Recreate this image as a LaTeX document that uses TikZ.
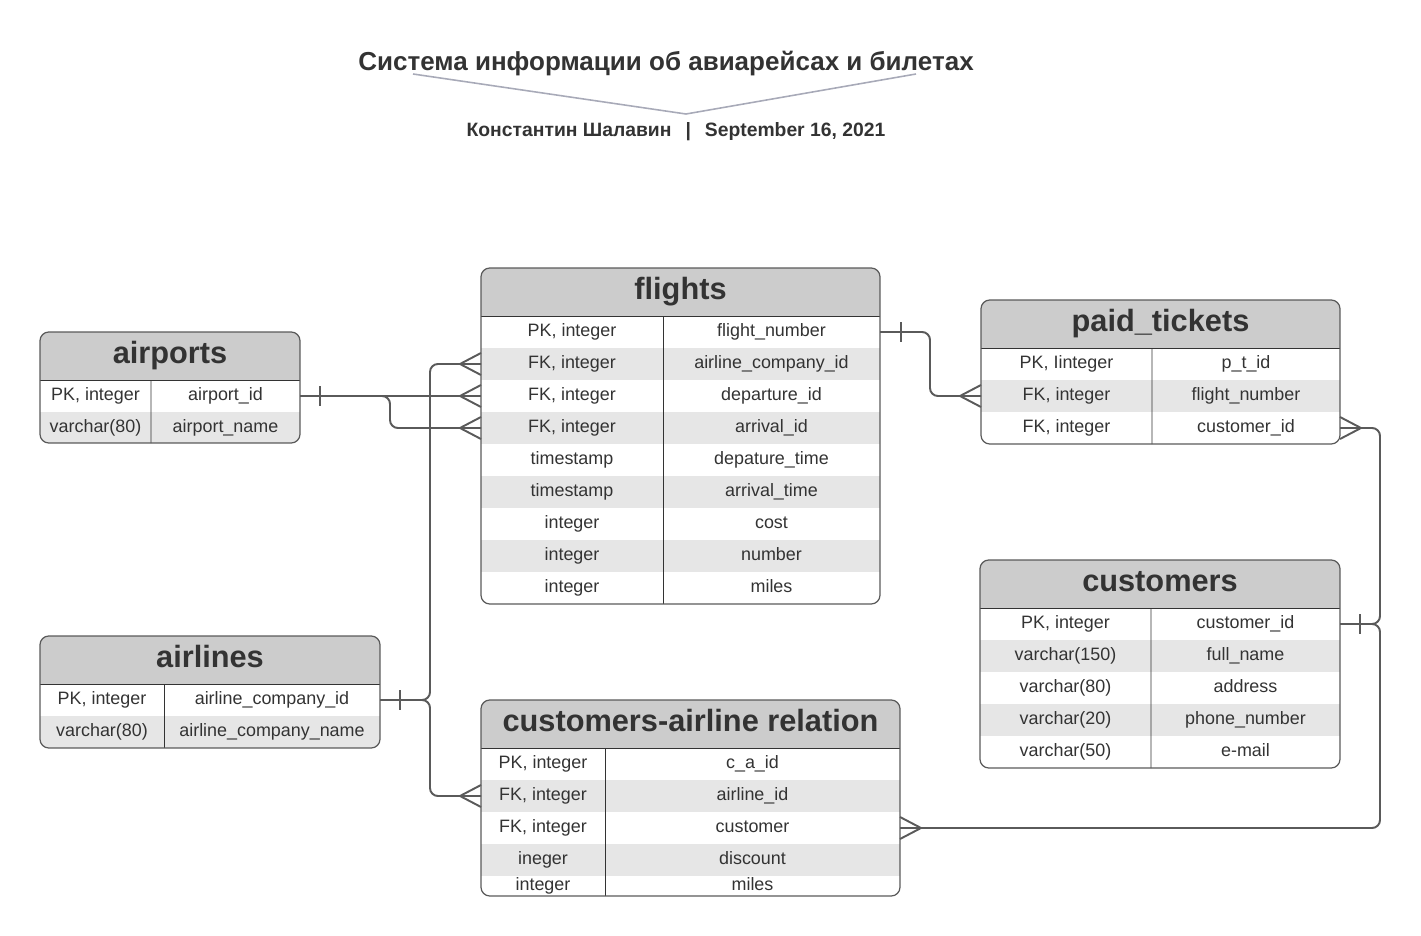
\documentclass[tikz,border=0pt]{standalone}
\usepackage{fontspec}
\setmainfont{Liberation Sans}
\usepackage{tikz}

\definecolor{headgray}{HTML}{CCCCCC}
\definecolor{rowgray}{HTML}{E6E6E6}
\definecolor{linegray}{HTML}{5A5A5A}
\definecolor{textgray}{HTML}{333333}
\definecolor{titleline}{HTML}{A8AAB8}

\newcommand{\erdtable}[8]{%
  \begin{scope}
    \clip[rounded corners=5pt] (#2,#3) rectangle ({#2+#4+#5},#7);
    \node[tblhead, minimum width={(#4+#5)*0.02cm}, anchor=north west] (#1) at (#2,#3) {#6};
    \foreach \typ/\fld [count=\i] in {#8} {
      \ifodd\i \def\rowfill{white}\else \def\rowfill{rowgray}\fi
      \pgfmathsetmacro\rowh{min(32,#7-(#3+48+(\i-1)*32))}
      \node[tblcell, fill=\rowfill, minimum height=\rowh*0.02cm, minimum width={#4*0.02cm}, anchor=north west]
        (#1-\i-l) at (#2,{#3+48+(\i-1)*32}) {\typ};
      \node[tblcell, fill=\rowfill, minimum height=\rowh*0.02cm, minimum width={#5*0.02cm}, anchor=north west]
        (#1-\i-r) at (#1-\i-l.north east) {\fld};
    }
    \draw[textgray] (#1.south west) -- (#1.south east);
    \draw[textgray] (#1-1-l.north east) -- ({#2+#4},#7);
  \end{scope}
  \draw[linegray, line width=0.7pt, rounded corners=5pt] (#2,#3) rectangle ({#2+#4+#5},#7);
}
\newcommand{\crowfoot}[2]{\draw[conn, shift={(#1)}] (#2,0) -- (0,-11) (#2,0) -- (0,11);}
\newcommand{\onebar}[2]{\draw[conn, shift={(#1)}] (#2,-10) -- (#2,10);}

\begin{document}
\begin{tikzpicture}[x=0.02cm, y=-0.02cm,
  tblhead/.style={fill=headgray, inner sep=0pt, outer sep=0pt, minimum height=48*0.02cm,
    text height=12.8pt, text depth=3.7pt, text=textgray, font=\fontsize{17.5}{20}\selectfont\bfseries},
  tblcell/.style={inner sep=0pt, outer sep=0pt, text height=7.4pt, text depth=2.2pt,
    text=textgray, font=\fontsize{10.2}{12}\selectfont},
  conn/.style={draw=linegray, line width=1.1pt, rounded corners=4.5pt}]
  \useasboundingbox (0,0) rectangle (1421,936);

  \node[text=textgray, font=\fontsize{14.8}{17}\selectfont\bfseries] (title) at (666,64)
    {Система информации об авиарейсах и билетах};
  \node[text=textgray, font=\fontsize{11}{13}\selectfont\bfseries] (subtitle) at (676,132)
    {Константин Шалавин \ \,|\, \ September 16, 2021};
  \draw[titleline, line width=0.9pt] (413,74) -- (686,114) -- (916,74);

  \erdtable{airports}{40}{332}{111}{149}{airports}{443}
    {{PK, integer}/airport\_id, varchar(80)/airport\_name}
  \erdtable{flights}{481}{268}{182}{217}{flights}{604}
    {{PK, integer}/flight\_number, {FK, integer}/airline\_company\_id, {FK, integer}/departure\_id,
     {FK, integer}/arrival\_id, timestamp/depature\_time, timestamp/arrival\_time,
     integer/cost, integer/number, integer/miles}
  \erdtable{paid}{981}{300}{171}{188}{paid\_tickets}{444}
    {{PK, Iinteger}/p\_t\_id, {FK, integer}/flight\_number, {FK, integer}/customer\_id}
  \erdtable{cust}{980}{560}{171}{189}{customers}{768}
    {{PK, integer}/customer\_id, varchar(150)/full\_name, varchar(80)/address,
     varchar(20)/phone\_number, varchar(50)/e-mail}
  \erdtable{airlines}{40}{636}{124}{216}{airlines}{748}
    {{PK, integer}/airline\_company\_id, varchar(80)/airline\_company\_name}
  \erdtable{rel}{481}{700}{124}{295}{customers-airline relation}{896}
    {{PK, integer}/c\_a\_id, {FK, integer}/airline\_id, {FK, integer}/customer,
     ineger/discount, integer/miles}

  \coordinate (apj) at (390,396);
  \coordinate (alj) at (430,700);
  \coordinate (fpj) at (930,332);
  \coordinate (cuj) at (1380,624);

  \draw[conn] (airports-1-r.east) -- (flights-3-l.west);
  \draw[conn] (airports-1-r.east) -- (apj) |- (flights-4-l.west);
  \draw[conn] (airlines-1-r.east) -- (alj) |- (flights-2-l.west);
  \draw[conn] (airlines-1-r.east) -- (alj) |- (rel-2-l.west);
  \draw[conn] (flights-1-r.east) -- (fpj) |- (paid-2-l.west);
  \draw[conn] (paid-3-r.east) -| (cuj) -- (cust-1-r.east);
  \draw[conn] (rel-3-r.east) -| (cuj) -- (cust-1-r.east);

  \crowfoot{flights-2-l.west}{-21}
  \crowfoot{flights-3-l.west}{-21}
  \crowfoot{flights-4-l.west}{-21}
  \crowfoot{rel-2-l.west}{-21}
  \crowfoot{paid-2-l.west}{-21}
  \crowfoot{paid-3-r.east}{21}
  \crowfoot{rel-3-r.east}{21}
  \onebar{airports-1-r.east}{20}
  \onebar{airlines-1-r.east}{20}
  \onebar{flights-1-r.east}{21}
  \onebar{cust-1-r.east}{20}
\end{tikzpicture}
\end{document}
